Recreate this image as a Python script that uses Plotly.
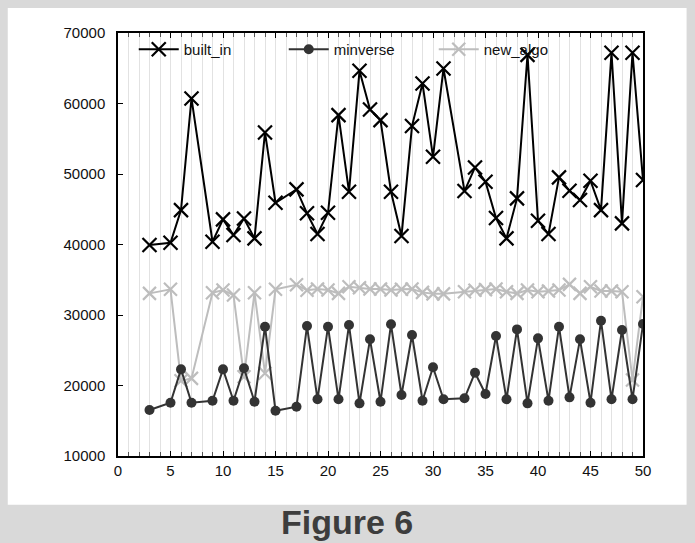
import plotly.graph_objects as go

# x positions: 3..50 excluding powers of two
x_vals = [3, 5, 6, 7, 9, 10, 11, 12, 13, 14, 15, 17, 18, 19, 20, 21, 22, 23, 24, 25,
          26, 27, 28, 29, 30, 31, 33, 34, 35, 36, 37, 38, 39, 40, 41, 42, 43, 44, 45,
          46, 47, 48, 49, 50]

built_in = [39930, 40250, 44880, 60720, 40390, 43560, 41340, 43700, 40870, 55900,
            45920, 47820, 44420, 41480, 44500, 58350, 47480, 64640, 59160, 57640,
            47480, 41200, 56800, 62850, 52440, 64970, 47580, 50930, 48900, 43750,
            40870, 46540, 66900, 43370, 41480, 49520, 47620, 46300, 49040, 44880,
            67190, 43000, 67190, 49140]

minverse = [16520, 17560, 22290, 17560, 17840, 22290, 17840, 22440, 17700, 28340,
            16420, 16990, 28430, 18040, 28340, 18040, 28580, 17470, 26550, 17700,
            28680, 18650, 27160, 17840, 22580, 18040, 18180, 21810, 18790, 27020,
            18040, 27960, 17470, 26690, 17840, 28340, 18320, 26550, 17560, 29190,
            18040, 27870, 18040, 28720]

new_algo = [33070, 33640, 20680, 21010, 33160, 33540, 32830, 21250, 33160, 21730,
            33640, 34300, 33500, 33680, 33540, 33070, 34000, 33870, 33680, 33680,
            33540, 33650, 33680, 33210, 33000, 33000, 33300, 33500, 33600, 33700,
            33300, 33070, 33540, 33300, 33400, 33540, 34340, 33070, 34000, 33400,
            33400, 33300, 20780, 32590]

series_names = ["built_in", "minverse", "new_algo"]
y_ticks = [10000, 20000, 30000, 40000, 50000, 60000, 70000]
y_tick_labels = ["10000", "20000", "30000", "40000", "50000", "60000", "70000"]
x_ticks = [0, 5, 10, 15, 20, 25, 30, 35, 40, 45, 50]
caption = "Figure 6"

tick_font = dict(family="Liberation Sans, Arial, sans-serif", size=15, color="#111111")

fig = go.Figure()
fig.add_trace(go.Scatter(x=x_vals, y=new_algo, name=series_names[2], mode="lines+markers",
                         line=dict(color="#bdbdbd", width=2),
                         marker=dict(symbol="x-thin", size=13, line=dict(color="#bdbdbd", width=2.2),
                                     color="#bdbdbd")))
fig.add_trace(go.Scatter(x=x_vals, y=minverse, name=series_names[1], mode="lines+markers",
                         line=dict(color="#333333", width=2),
                         marker=dict(symbol="circle", size=10, color="#333333")))
fig.add_trace(go.Scatter(x=x_vals, y=built_in, name=series_names[0], mode="lines+markers",
                         line=dict(color="#000000", width=2),
                         marker=dict(symbol="x-thin", size=14, line=dict(color="#000000", width=2.2),
                                     color="#000000")))

fig.update_layout(
    width=695, height=543,
    margin=dict(l=118, r=52, t=33, b=87),
    paper_bgcolor="#d9d9d9",
    plot_bgcolor="white",
    showlegend=True,
    legend=dict(orientation="h", x=0.03, y=1.0, xanchor="left", yanchor="top",
                bgcolor="rgba(0,0,0,0)", traceorder="reversed",
                font=dict(family="Liberation Sans, Arial, sans-serif", size=15, color="#111111"),
                itemwidth=40, entrywidth=95),
    xaxis=dict(range=[0, 50], tickvals=x_ticks, showline=True, linecolor="black", linewidth=1.5,
               mirror="ticks", ticks="inside", ticklen=5, tickcolor="black",
               showgrid=True, gridcolor="#e2e2e2", gridwidth=1,
               minor=dict(dtick=1, showgrid=True, gridcolor="#e2e2e2", ticks="inside",
                          ticklen=4, tickcolor="#555555"),
               tickfont=tick_font, zeroline=False, fixedrange=True),
    yaxis=dict(range=[10000, 70000], tickvals=y_ticks, ticktext=y_tick_labels,
               showline=True, linecolor="black",
               linewidth=1.5, mirror=True, ticks="inside", ticklen=5, tickcolor="black",
               showgrid=False, zeroline=False, tickfont=tick_font, ticklabelstandoff=8),
    shapes=[
        dict(type="rect", xref="paper", yref="paper", x0=-0.21, x1=1.083, y0=-0.115, y1=1.059,
             fillcolor="white", line=dict(width=0), layer="below"),
        dict(type="rect", xref="paper", yref="paper", x0=0.0, x1=0.842, y0=0.943, y1=1.0,
             fillcolor="white", line=dict(width=0), layer="between"),
    ],
    annotations=[
        dict(text="<b>" + caption + "</b>", xref="paper", yref="paper", x=0.437, y=-0.155,
             xanchor="center", yanchor="middle", showarrow=False,
             font=dict(family="Liberation Sans, Arial, sans-serif",
                       size=34, color="#3d3d3d")),
    ],
)

fig.write_html("out.html")
